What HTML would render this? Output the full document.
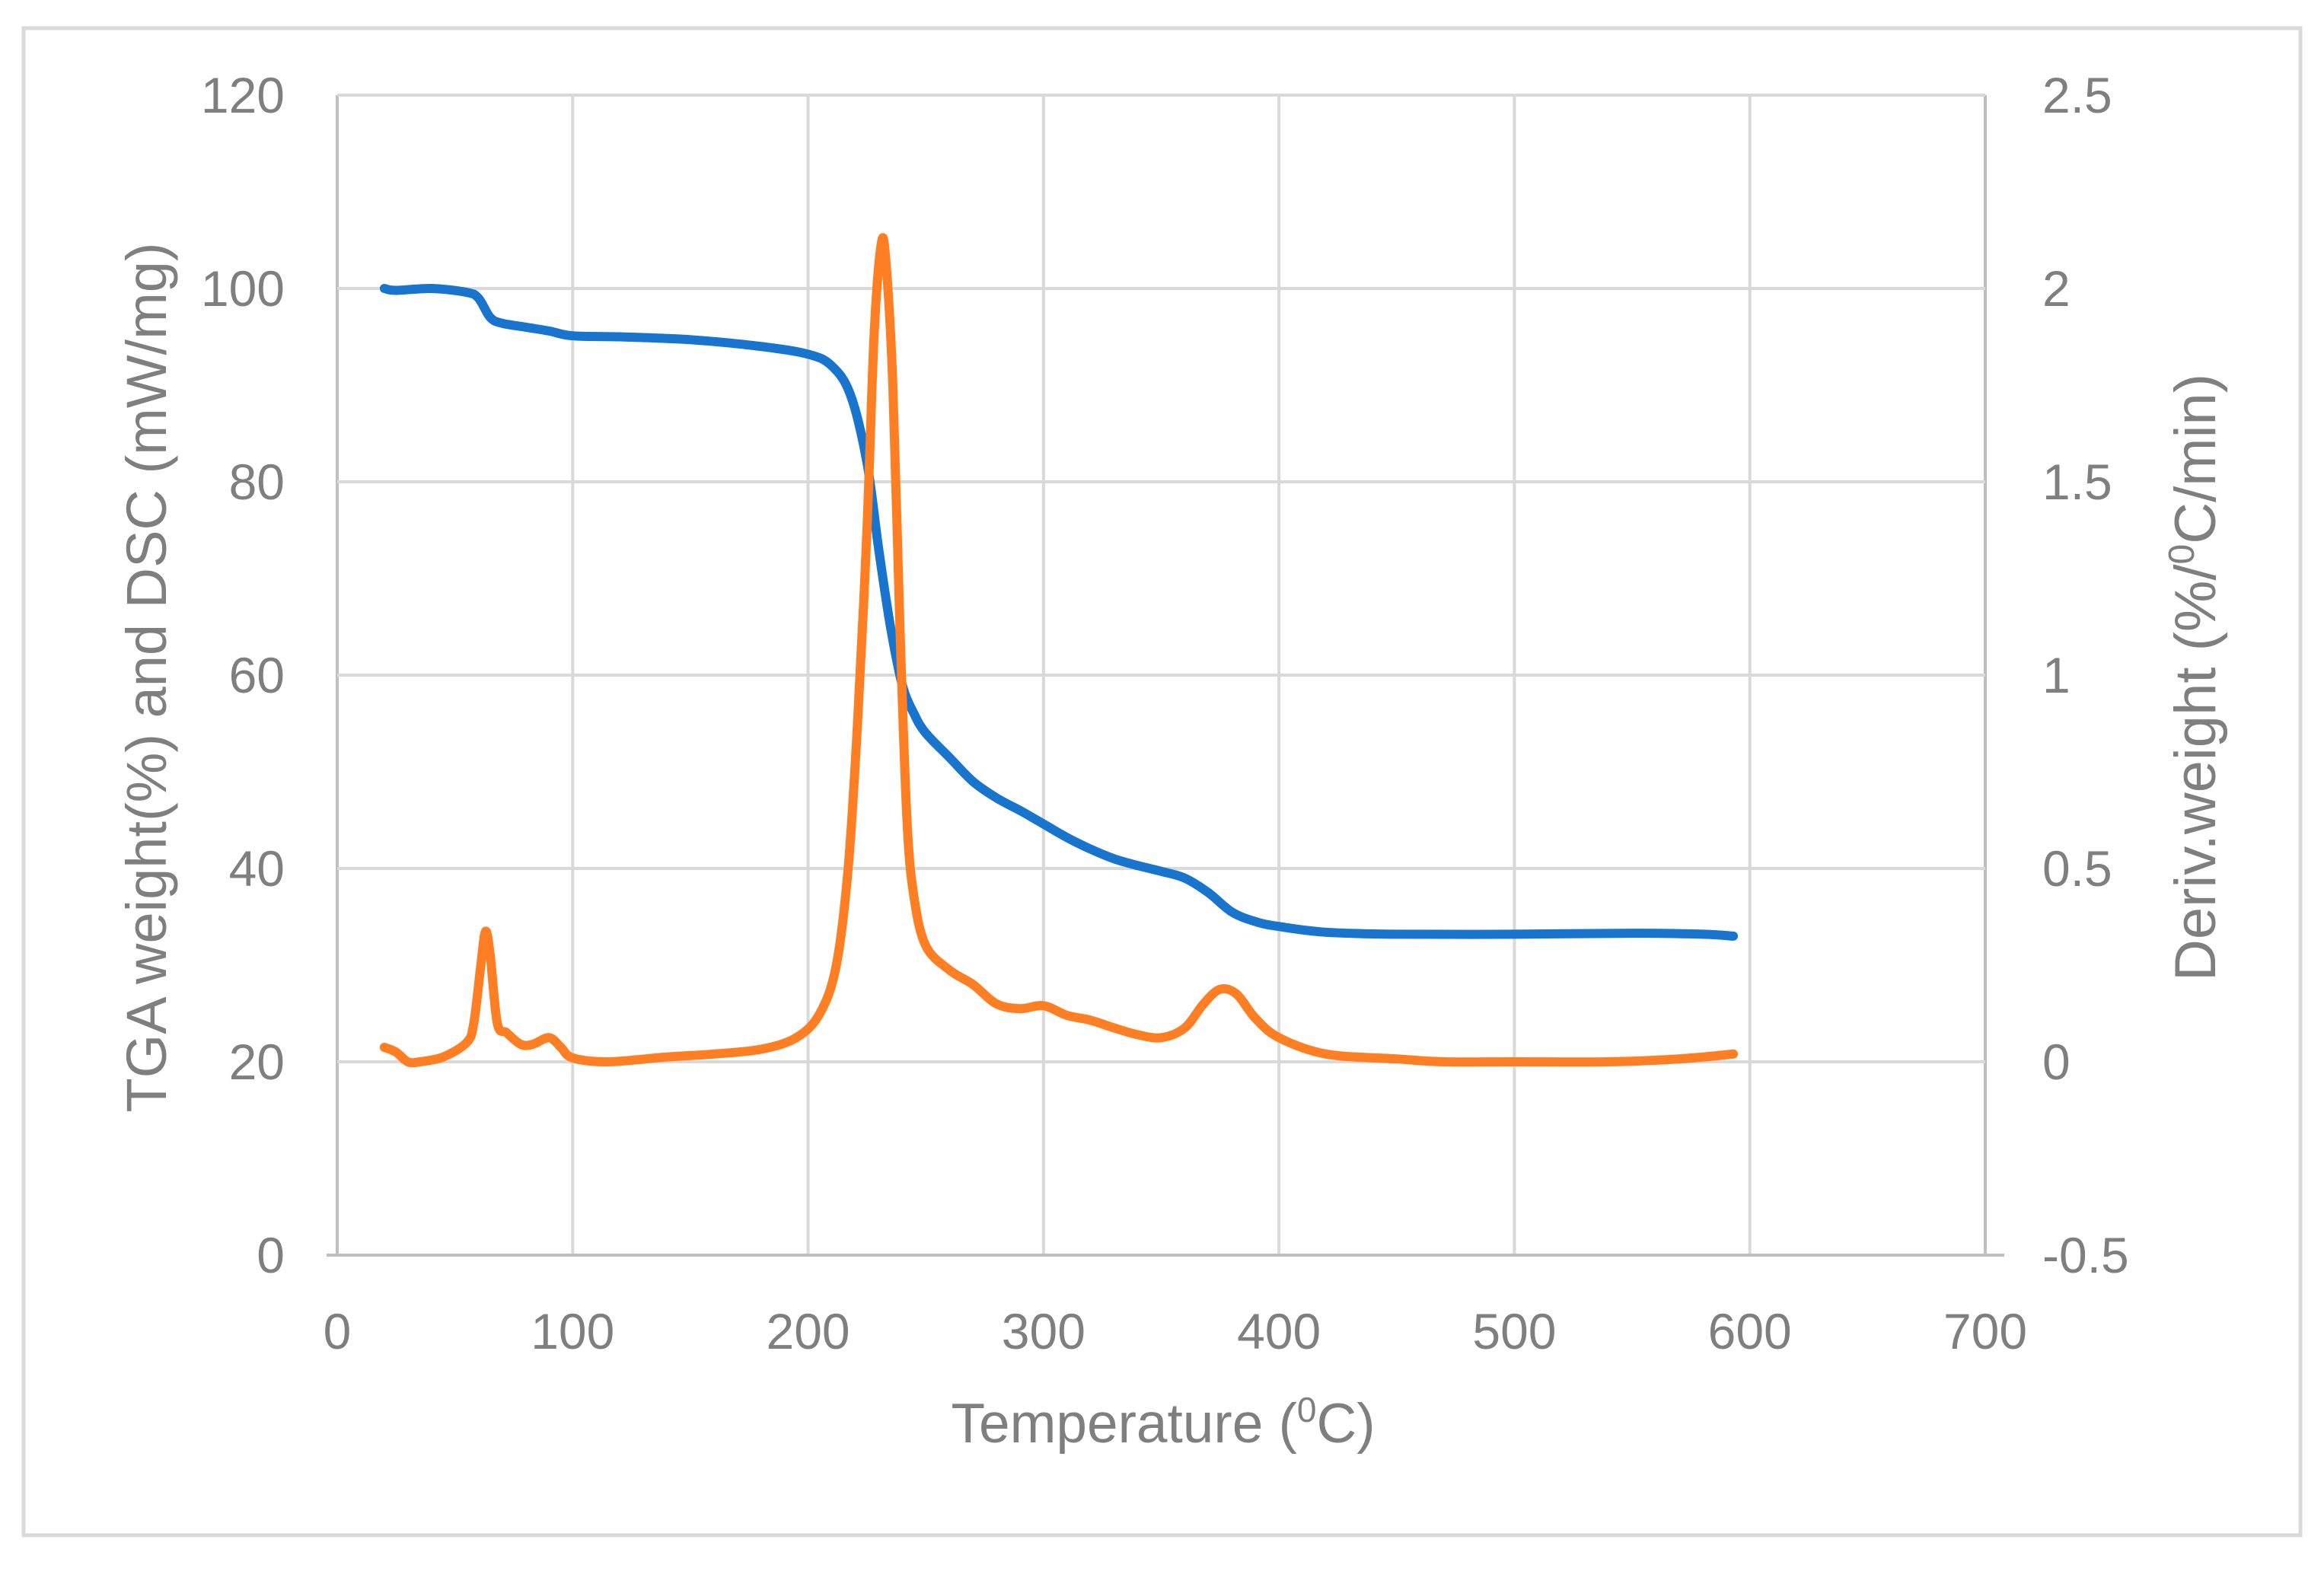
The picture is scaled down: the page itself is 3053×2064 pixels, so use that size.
<!DOCTYPE html>
<html><head><meta charset="utf-8"><style>
html,body{margin:0;padding:0;background:#fff}
svg text{font-family:"Liberation Sans",sans-serif;fill:#7f7f7f}
</style></head><body>
<svg id="chart" width="3053" height="2059" viewBox="0 0 3053 2059" xmlns="http://www.w3.org/2000/svg">
<rect x="31" y="37" width="2991" height="1980" fill="#fff" stroke="#d9d9d9" stroke-width="5"/>
<g id="grid"></g><g id="series"></g><g id="labels"></g>
<text x="1528" y="1895" font-size="73" text-anchor="middle">Temperature (<tspan font-size="46" dy="-27">0</tspan><tspan dy="27">C)</tspan></text>
<text transform="translate(218,890) rotate(-90)" font-size="74" text-anchor="middle">TGA weight(%) and DSC (mW/mg)</text>
<text transform="translate(2910,890) rotate(-90)" font-size="76" text-anchor="middle">Deriv.weight (%/<tspan font-size="48" dy="-28">0</tspan><tspan dy="28">C/min)</tspan></text>
</svg>
<script>
const xTicks=[0,100,200,300,400,500,600,700];
const leftTicks=[0,20,40,60,80,100,120];
const rightTicks=["-0.5","0","0.5","1","1.5","2","2.5"];
const tgaX=[20,25,40,55,60,65,70,80,90,100,120,150,180,200,210,218,225,230,235,240,245,250,260,270,280,290,300,310,320,330,340,350,360,370,380,390,400,420,450,500,550,580,593];
const tgaY=[100,99.8,100,99.6,99,97,96.4,96,95.6,95.1,95,94.7,94,93.2,92,89,82,73,65,59,56,54,51.5,49,47.3,46,44.6,43.2,42,41,40.3,39.7,39,37.5,35.5,34.5,34,33.4,33.2,33.2,33.3,33.2,33];
const dscX=[20,25,30,35,45,55,58,61,63,65,68,72,78,83,90,95,100,115,140,160,180,195,205,212,217,221,225,228,231,233,236,239,242,245,250,260,270,280,290,300,310,320,330,340,350,360,368,375,382,390,400,420,450,470,500,540,570,593];
const dscY=[21.5,21,20,20,20.5,22,24,30,33.5,31,24,23,21.8,21.8,22.5,21.5,20.4,20,20.5,20.8,21.3,22.5,25,30,40,55,75,95,104.5,103,90,65,45,37,32,29.5,28,26,25.5,25.8,24.8,24.3,23.5,22.8,22.5,23.5,26,27.5,27,24.5,22.5,20.8,20.3,20,20,20,20.3,20.8];
const L=443,R=2608,T=125,B=1649;
const sx=v=>L+(v-0)/700*(R-L);
const sy=v=>B-(v-0)/120*(B-T);
const NS="http://www.w3.org/2000/svg";
const grid=document.getElementById('grid'),labels=document.getElementById('labels'),series=document.getElementById('series');
function mk(tag,attrs,parent){const e=document.createElementNS(NS,tag);for(const k in attrs)e.setAttribute(k,attrs[k]);parent.appendChild(e);return e;}
xTicks.forEach(v=>{
 const l=mk('line',{x1:sx(v),x2:sx(v),y1:T,y2:B,stroke:v===0||v===700?'#bfbfbf':'#d9d9d9','stroke-width':4},grid);
 
 
 const t=mk('text',{x:sx(v),y:1772,'font-size':66,'text-anchor':'middle'},labels);
 t.textContent=v;
 
 
});
leftTicks.forEach((v,i)=>{
 const l=mk('line',{x1:L,x2:R,y1:sy(v),y2:sy(v),stroke:v===0?'#bfbfbf':'#d9d9d9','stroke-width':4},grid);
 
 
 const t=mk('text',{x:374,y:sy(v)+23,'font-size':66,'text-anchor':'end'},labels);
 t.textContent=v;
 
 
 const r=mk('text',{x:2683,y:sy(v)+23,'font-size':66,'text-anchor':'start'},labels);
 r.textContent=rightTicks[i];
 
 
});
mk('line',{x1:L-14,x2:L,y1:B,y2:B,stroke:'#bfbfbf','stroke-width':4},grid);
mk('line',{x1:R,x2:R+25,y1:B,y2:B,stroke:'#bfbfbf','stroke-width':4},grid);
function smooth(xs,ys){
 const p=xs.map((x,i)=>[sx(x),sy(ys[i])]);
 let d='M'+p[0][0].toFixed(1)+','+p[0][1].toFixed(1);
 for(let i=0;i<p.length-1;i++){
  const p0=p[i-1]||p[i],p1=p[i],p2=p[i+1],p3=p[i+2]||p2;
  const c1=[p1[0]+(p2[0]-p0[0])/6,p1[1]+(p2[1]-p0[1])/6];
  const c2=[p2[0]-(p3[0]-p1[0])/6,p2[1]-(p3[1]-p1[1])/6];
  d+=`C${c1[0].toFixed(1)},${c1[1].toFixed(1)} ${c2[0].toFixed(1)},${c2[1].toFixed(1)} ${p2[0].toFixed(1)},${p2[1].toFixed(1)}`;
 }
 return d;
}
const tga=mk('path',{d:smooth(tgaX,tgaY),fill:'none',stroke:'#1874cd','stroke-width':12,'stroke-linecap':'round','stroke-linejoin':'round'},series);


const dsc=mk('path',{d:smooth(dscX,dscY),fill:'none',stroke:'#fd7e23','stroke-width':12,'stroke-linecap':'round','stroke-linejoin':'round'},series);


</script>
</body></html>
